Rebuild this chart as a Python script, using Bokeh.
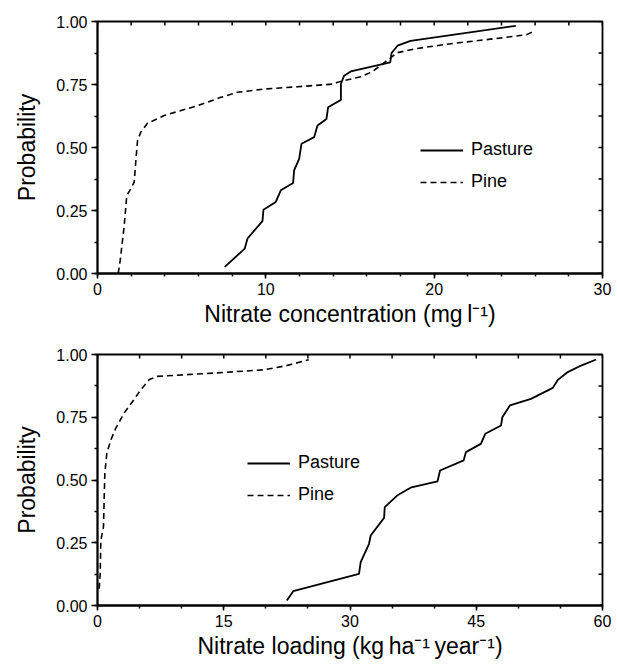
import math
from bokeh.plotting import figure
from bokeh.models import Range1d, FixedTicker, LinearAxis, Legend, LegendItem, PrintfTickFormatter
from bokeh.layouts import column
from bokeh.embed import file_html
from bokeh.resources import INLINE

# ---------------- data ----------------
conc_pasture_x = [7.56, 8.75, 8.91, 9.80, 9.86, 10.59, 10.89, 11.62, 11.68, 11.98, 12.12, 12.87,
                  13.07, 13.60, 13.70, 14.46, 14.46, 14.65, 15.05, 17.39, 17.47, 17.82, 18.6, 24.85]
conc_pasture_y = [0.026, 0.099, 0.139, 0.208, 0.253, 0.284, 0.330, 0.359, 0.409, 0.455, 0.515, 0.541,
                  0.587, 0.613, 0.660, 0.689, 0.752, 0.785, 0.802, 0.838, 0.875, 0.904, 0.923, 0.983]

conc_pine_x = [1.23, 1.35, 1.58, 1.74, 1.98, 2.18, 2.28, 2.38, 2.57, 2.97, 3.96, 5.94, 7.33, 8.32,
               9.9, 11.88, 14.06, 14.26, 15.64, 16.3, 17.3, 17.8, 19.0, 21.0, 24.0, 25.5, 25.94]
conc_pine_y = [0.0, 0.053, 0.185, 0.31, 0.336, 0.363, 0.449, 0.528, 0.561, 0.596, 0.627, 0.666, 0.699, 0.719,
               0.732, 0.741, 0.752, 0.759, 0.781, 0.80, 0.85, 0.876, 0.893, 0.912, 0.935, 0.948, 0.962]

load_pasture_x = [22.5, 23.25, 31.07, 31.27, 32.26, 32.46, 34.05, 34.13, 35.6, 37.3, 40.4, 40.7, 43.5,
                  43.77, 45.55, 46.07, 47.94, 48.1, 49.0, 51.5, 54.1, 54.7, 55.87, 57.46, 59.25]
load_pasture_y = [0.02, 0.057, 0.126, 0.173, 0.246, 0.279, 0.349, 0.392, 0.438, 0.471, 0.495, 0.538, 0.578,
                  0.611, 0.644, 0.684, 0.717, 0.75, 0.797, 0.823, 0.867, 0.899, 0.930, 0.956, 0.980]

load_pine_x = [0.2, 0.32, 0.4, 0.71, 0.79, 0.87, 1.11, 1.59, 2.18, 3.17, 4.17, 5.16, 6.15, 7.14,
               13.8, 19.8, 22.5, 25.1]
load_pine_y = [0.067, 0.127, 0.26, 0.313, 0.42, 0.527, 0.607, 0.66, 0.707, 0.767, 0.813, 0.86, 0.9, 0.913,
               0.926, 0.939, 0.956, 0.979]

series_names = ["Pasture", "Pine"]

conc_ticks = [0, 10, 20, 30]
conc_minor = [0, 2, 4, 6, 8, 10, 12, 14, 16, 18, 20, 22, 24, 26, 28, 30]
load_ticks = [0, 15, 30, 45, 60]
load_minor = [0, 5, 10, 15, 20, 25, 30, 35, 40, 45, 50, 55, 60]
prob_ticks = [0.0, 0.25, 0.5, 0.75, 1.0]
prob_minor = [0.0, 0.125, 0.25, 0.375, 0.5, 0.625, 0.75, 0.875, 1.0]

conc_label = "Nitrate concentration (mg\u2009l\u207b\u00b9)"
load_label = "Nitrate loading (kg\u2009ha\u207b\u00b9\u2009year\u207b\u00b9)"
y_label = "Probability"

FONT = "Liberation Sans"


def make_fig(xmax, xt, xm, xlabel, border_top, frame_h, px, py, pinex, piney, legend_loc):
    p = figure(frame_width=505, frame_height=frame_h,
               x_range=Range1d(0, xmax), y_range=Range1d(0, 1),
               output_backend="svg", toolbar_location=None,
               x_axis_location=None, y_axis_location=None,
               min_border_left=97, min_border_right=15, min_border_top=border_top,
               min_border_bottom=0)
    p.xgrid.visible = False
    p.ygrid.visible = False
    p.outline_line_color = "black"
    p.outline_line_width = 1.8
    p.background_fill_color = "white"
    p.border_fill_color = "white"

    common = dict(axis_line_width=1.8, axis_line_color="black",
                  major_tick_line_width=1.5, minor_tick_line_width=1.5,
                  major_tick_line_color="black", minor_tick_line_color="black",
                  major_label_text_color="black", axis_label_text_color="black")

    xb = LinearAxis(ticker=FixedTicker(ticks=xt, minor_ticks=xm), axis_label=xlabel,
                    axis_label_text_font=FONT, axis_label_text_font_size="23px",
                    axis_label_text_font_style="normal", axis_label_standoff=3,
                    major_label_text_font=FONT, major_label_text_font_size="16px",
                    major_label_standoff=4,
                    major_tick_in=0, major_tick_out=5, minor_tick_in=0, minor_tick_out=3, **common)
    p.add_layout(xb, "below")

    yl = LinearAxis(ticker=FixedTicker(ticks=prob_ticks, minor_ticks=prob_minor), axis_label=y_label,
                    axis_label_text_font=FONT, axis_label_text_font_size="23px",
                    axis_label_text_font_style="normal", axis_label_standoff=13,
                    major_label_text_font=FONT, major_label_text_font_size="16px",
                    major_label_standoff=4, formatter=PrintfTickFormatter(format="%.2f"),
                    major_tick_in=0, major_tick_out=6, minor_tick_in=0, minor_tick_out=3, **common)
    p.add_layout(yl, "left")

    # mirrored inward ticks on the top and right edges (derived from the tick lists)
    p.ray(x=xm, y=[1.0] * len(xm), length=4, length_units="screen", angle=-math.pi / 2,
          line_color="black", line_width=1.5)
    p.ray(x=[xmax] * len(prob_minor), y=prob_minor, length=4, length_units="screen", angle=math.pi,
          line_color="black", line_width=1.5)

    r1 = p.line(px, py, line_color="black", line_width=1.8)
    r2 = p.line(pinex, piney, line_color="black", line_width=1.6, line_dash="6 4")

    leg = Legend(items=[LegendItem(label=series_names[0], renderers=[r1]),
                        LegendItem(label=series_names[1], renderers=[r2])],
                 location=legend_loc, glyph_width=43, glyph_height=20, label_height=20,
                 spacing=11, label_standoff=8, padding=0, margin=0,
                 border_line_color=None, background_fill_alpha=0,
                 label_text_font=FONT, label_text_font_size="18px", label_text_color="black")
    p.add_layout(leg)
    return p


p1 = make_fig(30, conc_ticks, conc_minor, conc_label, 21, 252,
              conc_pasture_x, conc_pasture_y, conc_pine_x, conc_pine_y, (323, 81))
p2 = make_fig(60, load_ticks, load_minor, load_label, 25, 251,
              load_pasture_x, load_pasture_y, load_pine_x, load_pine_y, (150, 100))

layout = column(p1, p2, spacing=0)
open("out.html", "w").write(file_html(layout, INLINE))
